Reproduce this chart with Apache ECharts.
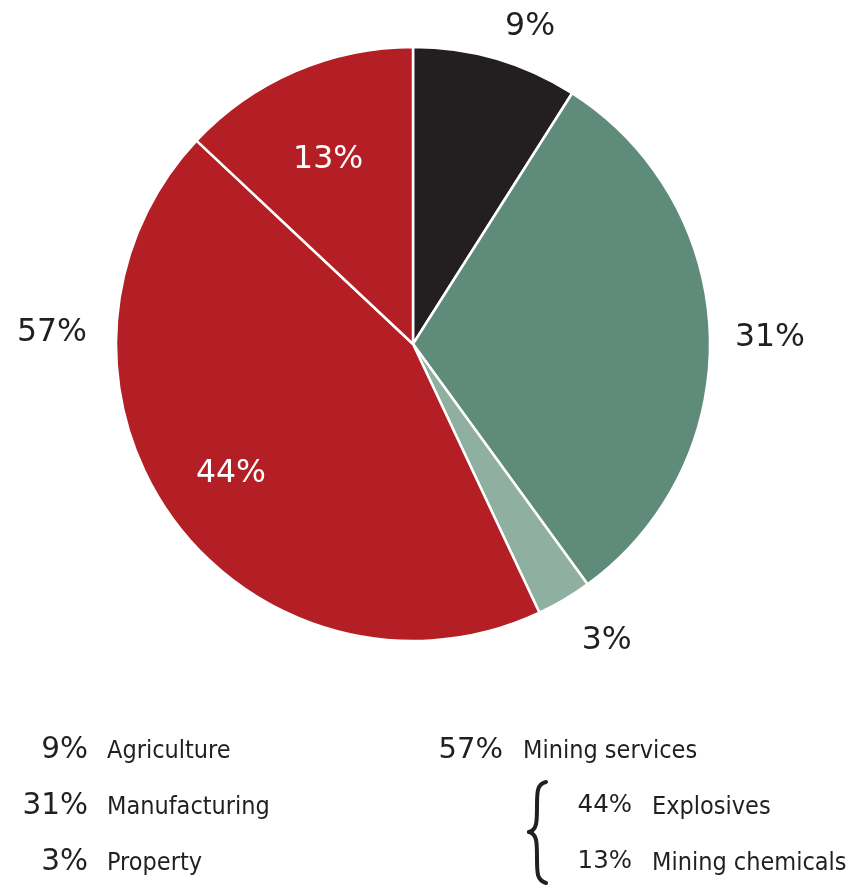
<!DOCTYPE html>
<html>
<head>
<meta charset="utf-8">
<title>Sector shares</title>
<script src="https://cdn.jsdelivr.net/npm/echarts@6/dist/echarts.min.js"></script>
<style>
  html, body { margin: 0; padding: 0; background: #fff; }
  #chart { width: 855px; height: 886px; }
</style>
</head>
<body>
<div id="chart"></div>
<script>
// Sector shares, clockwise from 12 o'clock
const sectors = ['Agriculture', 'Manufacturing', 'Property', 'Explosives', 'Mining chemicals'];
const shares = [9, 31, 3, 44, 13];
const sliceColors = ['#231f20', '#5f8b7b', '#8fb0a1', '#b31f24', '#b31f24'];
const insideLabel = [false, false, false, true, true];

// Mining services is the sum of its two sub-sectors
const miningParts = ['Explosives', 'Mining chemicals'];
const miningTotal = shares[sectors.indexOf(miningParts[0])] + shares[sectors.indexOf(miningParts[1])];
const otherTotal = shares.reduce((a, b) => a + b, 0) - miningTotal;

// Legend rows
const legendLeft = ['Agriculture', 'Manufacturing', 'Property'];
const legendRightTop = 'Mining services';

const NUM_FONT = '"DejaVu Sans", sans-serif';
const NAME_FONT = '"DejaVu Sans Condensed", "DejaVu Sans", sans-serif';
const TEXT = '#231f20';
const CX = 413, CY = 344, R = 297;

// label placement: [radius factor, angle in degrees clockwise from top]
const labelPolar = [[1.147, 20.1], [1.2025, 88.6], [1.185, 146.6], [0.747, 235.1], [0.692, 335.6]];
const totalLabelPolar = [1.2165, 272.2];
const LABEL_DY = 2.5;

function polar(f, deg) {
  const a = deg * Math.PI / 180;
  return { x: CX + f * R * Math.sin(a), y: CY - f * R * Math.cos(a) + LABEL_DY };
}

const chart = echarts.init(document.getElementById('chart'), null, { renderer: 'canvas' });

const legendGraphics = [];
const rowY = [750, 806, 862];
legendLeft.forEach((name, i) => {
  const v = shares[sectors.indexOf(name)];
  legendGraphics.push({
    type: 'text', x: 88, y: rowY[i],
    style: { text: v + '%', font: '29.5px ' + NUM_FONT, fill: TEXT, align: 'right', verticalAlign: 'middle' }
  });
  legendGraphics.push({
    type: 'text', x: 107, y: rowY[i] + 1,
    style: { text: name, font: '25px ' + NAME_FONT, fill: TEXT, align: 'left', verticalAlign: 'middle' }
  });
});
legendGraphics.push({
  type: 'text', x: 503, y: rowY[0],
  style: { text: miningTotal + '%', font: '29px ' + NUM_FONT, fill: TEXT, align: 'right', verticalAlign: 'middle' }
});
legendGraphics.push({
  type: 'text', x: 523, y: rowY[0] + 1,
  style: { text: legendRightTop, font: '25px ' + NAME_FONT, fill: TEXT, align: 'left', verticalAlign: 'middle' }
});
miningParts.forEach((name, i) => {
  const v = shares[sectors.indexOf(name)];
  legendGraphics.push({
    type: 'text', x: 632, y: rowY[i + 1],
    style: { text: v + '%', font: '24.5px ' + NUM_FONT, fill: TEXT, align: 'right', verticalAlign: 'middle' }
  });
  legendGraphics.push({
    type: 'text', x: 652, y: rowY[i + 1] + 1,
    style: { text: name, font: '25px ' + NAME_FONT, fill: TEXT, align: 'left', verticalAlign: 'middle' }
  });
});
// curly brace grouping the mining sub-sectors, built from four curve segments
const braceSegments = [
  { x1: 546, y1: 782, cpx1: 537, cpy1: 784, cpx2: 537, cpy2: 792, x2: 537, y2: 806 },
  { x1: 537, y1: 806, cpx1: 537, cpy1: 822, cpx2: 537, cpy2: 830, x2: 529, y2: 832 },
  { x1: 529, y1: 832, cpx1: 537, cpy1: 834, cpx2: 537, cpy2: 842, x2: 537, y2: 858 },
  { x1: 537, y1: 858, cpx1: 537, cpy1: 874, cpx2: 537, cpy2: 880, x2: 546, y2: 883 }
];
braceSegments.forEach(seg => {
  legendGraphics.push({
    type: 'bezierCurve',
    shape: seg,
    style: { fill: null, stroke: TEXT, lineWidth: 4, lineCap: 'round' }
  });
});

chart.setOption({
  animation: false,
  backgroundColor: '#fff',
  graphic: legendGraphics,
  series: [
    {
      type: 'pie',
      center: [CX, CY],
      radius: [0, R],
      startAngle: 90,
      clockwise: true,
      avoidLabelOverlap: false,
      silent: true,
      itemStyle: { borderColor: '#fff', borderWidth: 2.5 },
      labelLine: { show: false },
      label: {
        show: true,
        position: 'outside',
        formatter: p => p.value + '%',
        fontFamily: NUM_FONT,
        fontSize: 31.5,
        color: TEXT
      },
      labelLayout: p => {
        const pt = polar(labelPolar[p.dataIndex][0], labelPolar[p.dataIndex][1]);
        return { x: pt.x, y: pt.y, align: 'center', verticalAlign: 'middle' };
      },
      data: sectors.map((name, i) => ({
        name,
        value: shares[i],
        itemStyle: { color: sliceColors[i] },
        label: insideLabel[i] ? { color: '#ffffff' } : {}
      }))
    },
    {
      // transparent overlay carrying the combined mining-services label
      type: 'pie',
      center: [CX, CY],
      radius: [0, R],
      startAngle: 90,
      clockwise: true,
      silent: true,
      avoidLabelOverlap: false,
      itemStyle: { color: 'rgba(0,0,0,0)', borderWidth: 0 },
      labelLine: { show: false },
      label: {
        show: true,
        position: 'outside',
        formatter: p => p.value + '%',
        fontFamily: NUM_FONT,
        fontSize: 31.5,
        color: TEXT
      },
      labelLayout: p => {
        const pt = polar(totalLabelPolar[0], totalLabelPolar[1]);
        return { x: pt.x, y: pt.y, align: 'center', verticalAlign: 'middle' };
      },
      data: [
        { name: 'Other', value: otherTotal, label: { show: false } },
        { name: 'Mining services', value: miningTotal }
      ]
    }
  ]
});
</script>
</body>
</html>
